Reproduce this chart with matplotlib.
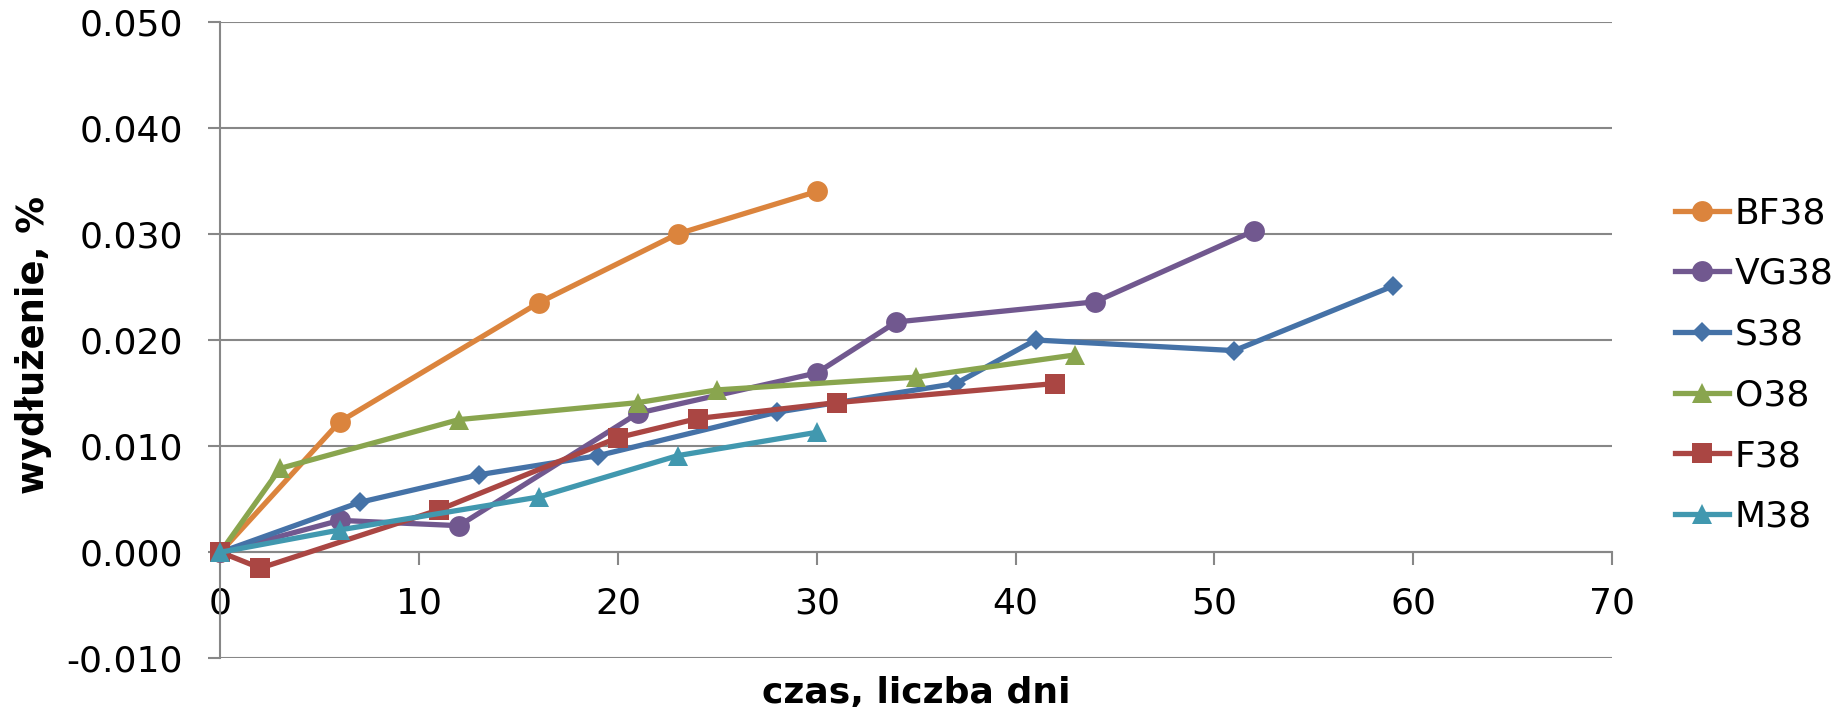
import matplotlib
matplotlib.use("Agg")
import matplotlib.pyplot as plt
from matplotlib.ticker import FormatStrFormatter, MultipleLocator

# dni pomiaru i wydłużenie [%] dla każdej serii
days_bf = [0, 6, 16, 23, 30]
el_bf = [0.0, 0.0123, 0.0235, 0.0300, 0.0340]

days_vg = [0, 6, 12, 21, 30, 34, 44, 52]
el_vg = [0.0, 0.0030, 0.0025, 0.0131, 0.0169, 0.0217, 0.0236, 0.0303]

days_s = [0, 7, 13, 19, 28, 37, 41, 51, 59]
el_s = [0.0, 0.0047, 0.0073, 0.0091, 0.0132, 0.0159, 0.0200, 0.0190, 0.0251]

days_o = [0, 3, 12, 21, 25, 35, 43]
el_o = [0.0, 0.0079, 0.0125, 0.0141, 0.0153, 0.0165, 0.0186]

days_f = [0, 2, 11, 20, 24, 31, 42]
el_f = [0.0, -0.0015, 0.0040, 0.0108, 0.0126, 0.0141, 0.0159]

days_m = [0, 6, 16, 23, 30]
el_m = [0.0, 0.0021, 0.0052, 0.0091, 0.0113]

names = ["BF38", "VG38", "S38", "O38", "F38", "M38"]

series = [
    (days_bf, el_bf, "#DB843D", "o", 15),
    (days_vg, el_vg, "#71588F", "o", 15),
    (days_s, el_s, "#4572A7", "D", 10.5),
    (days_o, el_o, "#89A54E", "^", 15),
    (days_f, el_f, "#AA4643", "s", 14.5),
    (days_m, el_m, "#4198AF", "^", 15),
]

grid_col = "#878787"

fig = plt.figure(figsize=(18.49, 7.07), dpi=100)
ax = fig.add_axes([220.5 / 1849, 1 - 658.3 / 707, (1612 - 220.5) / 1849, (658.3 - 21.7) / 707])

for i, (x, y, col, mk, ms) in enumerate(series):
    ax.plot(x, y, color=col, lw=3.8, marker=mk, ms=ms, mew=0,
            label=names[i], clip_on=False, zorder=3 + i)

ax.set_xlim(0, 70)
ax.set_ylim(-0.010, 0.050)
ax.xaxis.set_major_locator(MultipleLocator(10))
ax.yaxis.set_major_locator(MultipleLocator(0.010))
ax.yaxis.set_major_formatter(FormatStrFormatter("%.3f"))

ax.set_axisbelow(True)
ax.grid(axis="y", color=grid_col, lw=1.5)
ax.grid(axis="x", visible=False)

for s in ["top", "right"]:
    ax.spines[s].set_visible(False)
ax.spines["bottom"].set_position(("data", 0))
ax.spines["bottom"].set_color(grid_col)
ax.spines["bottom"].set_linewidth(1.5)
ax.spines["left"].set_color(grid_col)
ax.spines["left"].set_linewidth(1.5)

ax.tick_params(axis="y", direction="out", length=9, width=1.5, color=grid_col,
               pad=18, labelsize=26)
ax.tick_params(axis="x", direction="out", length=9, width=1.5, color=grid_col,
               pad=16, labelsize=26)

fig.text(34 / 1849, 1 - 345 / 707, "wydłużenie, %", rotation=90, ha="center",
         va="center", fontsize=26.5, fontweight="bold")
fig.text(916 / 1849, 4 / 707, "czas, liczba dni", ha="center", va="baseline",
         fontsize=26, fontweight="bold")

ax.legend(loc="center left", bbox_to_anchor=(1675 / 1849, 1 - 365 / 707),
          bbox_transform=fig.transFigure, frameon=False, fontsize=26,
          handlelength=1.5, handletextpad=0.15, labelspacing=0.74,
          borderpad=0, borderaxespad=0)

fig.savefig("out.png", dpi=100)
